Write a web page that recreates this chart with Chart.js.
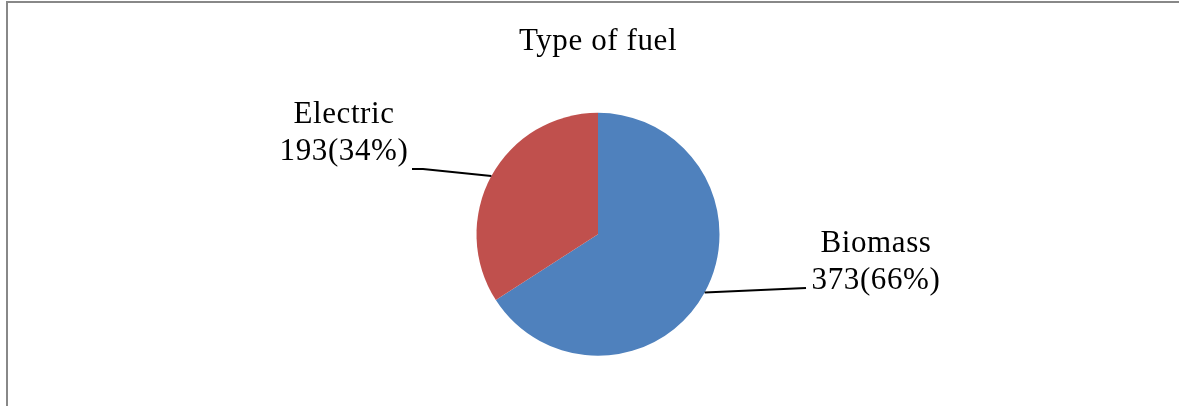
<!DOCTYPE html>
<html>
<head>
<meta charset="utf-8">
<script src="https://cdn.jsdelivr.net/npm/chart.js@4.4.0/dist/chart.umd.min.js"></script>
<style>
  html, body { margin: 0; padding: 0; background: #fff; overflow: hidden; }
  #wrap { position: relative; width: 1179px; height: 406px; }
  #frame { position: absolute; left: 6px; top: 1px; width: 1300px; height: 500px;
           border: 2px solid #888; box-sizing: border-box; pointer-events: none; }
  canvas { position: absolute; left: 0; top: 0; }
</style>
</head>
<body>
<div id="wrap">
  <canvas id="c" width="1179" height="406"></canvas>
  <div id="frame"></div>
</div>
<script>
const titleText = 'Type of fuel';
const categories = ['Biomass', 'Electric'];
const values = [373, 193];
const colors = ['#4F81BD', '#C0504D'];

const FONT = '31px "Liberation Serif", "Times New Roman", serif';

// label layout: text centre x, first baseline y, leader elbow & end points
const labelLayout = [
  { tx: 876, ty: 252, elbow: [806, 288], end: [806, 288] },
  { tx: 344, ty: 123, elbow: [423, 169], end: [412, 169] }
];

const labelsPlugin = {
  id: 'pieLabels',
  afterDraw(chart) {
    const ctx = chart.ctx;
    const total = values.reduce((a, b) => a + b, 0);
    ctx.save();
    ctx.fillStyle = '#000';
    ctx.font = FONT;
    if ('letterSpacing' in ctx) ctx.letterSpacing = '0.6px';
    ctx.textAlign = 'center';
    ctx.textBaseline = 'alphabetic';
    const meta = chart.getDatasetMeta(0);
    ctx.fillText(titleText, meta.data[0].x, 50);
    meta.data.forEach((arc, i) => {
      const mid = (arc.startAngle + arc.endAngle) / 2;
      const sx = arc.x + Math.cos(mid) * arc.outerRadius;
      const sy = arc.y + Math.sin(mid) * arc.outerRadius;
      const L = labelLayout[i];
      ctx.strokeStyle = '#000';
      ctx.lineWidth = 2;
      ctx.beginPath();
      ctx.moveTo(sx, sy);
      ctx.lineTo(L.elbow[0], L.elbow[1]);
      ctx.lineTo(L.end[0], L.end[1]);
      ctx.stroke();
      const pct = Math.round(values[i] / total * 100);
      ctx.fillText(categories[i], L.tx, L.ty);
      ctx.fillText(values[i] + '(' + pct + '%)', L.tx, L.ty + 37);
    });
    ctx.restore();
  }
};

new Chart(document.getElementById('c'), {
  type: 'pie',
  data: {
    labels: categories,
    datasets: [{
      data: values,
      backgroundColor: colors,
      borderWidth: 0
    }]
  },
  options: {
    responsive: false,
    animation: false,
    radius: 121.5,
    layout: { padding: { left: 17, right: 0, top: 62.6, bottom: 0 } },
    plugins: {
      legend: { display: false },
      tooltip: { enabled: false },
      title: { display: false }
    }
  },
  plugins: [labelsPlugin]
});
</script>
</body>
</html>
